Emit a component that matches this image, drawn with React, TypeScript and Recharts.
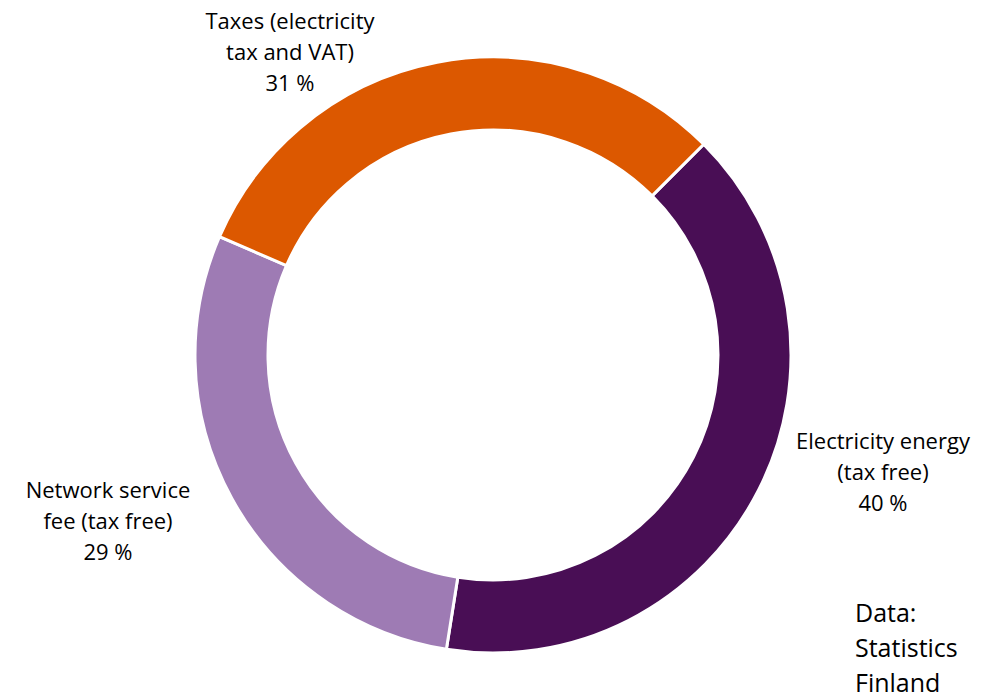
import { PieChart, Pie, Cell } from "recharts";

const categories = ["Electricity energy (tax free)", "Network service fee (tax free)", "Taxes (electricity tax and VAT)"];
const shares = [40, 29, 31];
const labelLines = [
  ["Electricity energy", "(tax free)"],
  ["Network service", "fee (tax free)"],
  ["Taxes (electricity", "tax and VAT)"],
];
const colors = ["#490E55", "#9E7BB4", "#DC5800"];
const source = ["Data:", "Statistics", "Finland"];

// where Excel left the labels after they were dragged off the ring
const labelSpots = [
  { x: 883, y: 440 },
  { x: 108, y: 489 },
  { x: 290, y: 20 },
];

const data = categories.map((name, i) => ({ name, value: shares[i] }));

const font = "'Open Sans', 'Noto Sans', sans-serif";

function renderLabel({ index }: { index: number }) {
  const spot = labelSpots[index];
  const lines = [...labelLines[index], `${shares[index]} %`];
  return (
    <text key={index} x={spot.x} y={spot.y} textAnchor="middle" fill="#000" fontSize={22} fontFamily={font}>
      {lines.map((line, j) => (
        <tspan key={j} x={spot.x} dy={j === 0 ? 0 : 31} dominantBaseline="central">
          {line}
        </tspan>
      ))}
    </text>
  );
}

export default function App() {
  return (
    <div style={{ position: "absolute", left: 0, top: 0, width: 1002, height: 695, background: "#fff" }}>
      <PieChart width={1002} height={695} margin={{ top: 0, right: 0, bottom: 0, left: 0 }}>
        <Pie
          data={data}
          dataKey="value"
          nameKey="name"
          cx={493}
          cy={355}
          innerRadius={225}
          outerRadius={298}
          startAngle={45}
          endAngle={-315}
          stroke="#fff"
          strokeWidth={3}
          label={renderLabel}
          labelLine={false}
          isAnimationActive={false}
        >
          {data.map((d, i) => (
            <Cell key={d.name} fill={colors[i]} />
          ))}
        </Pie>
        <text x={855} y={612} fill="#000" fontSize={25} fontFamily={font}>
          {source.map((line, j) => (
            <tspan key={j} x={855} dy={j === 0 ? 0 : 35} dominantBaseline="central">
              {line}
            </tspan>
          ))}
        </text>
      </PieChart>
    </div>
  );
}
